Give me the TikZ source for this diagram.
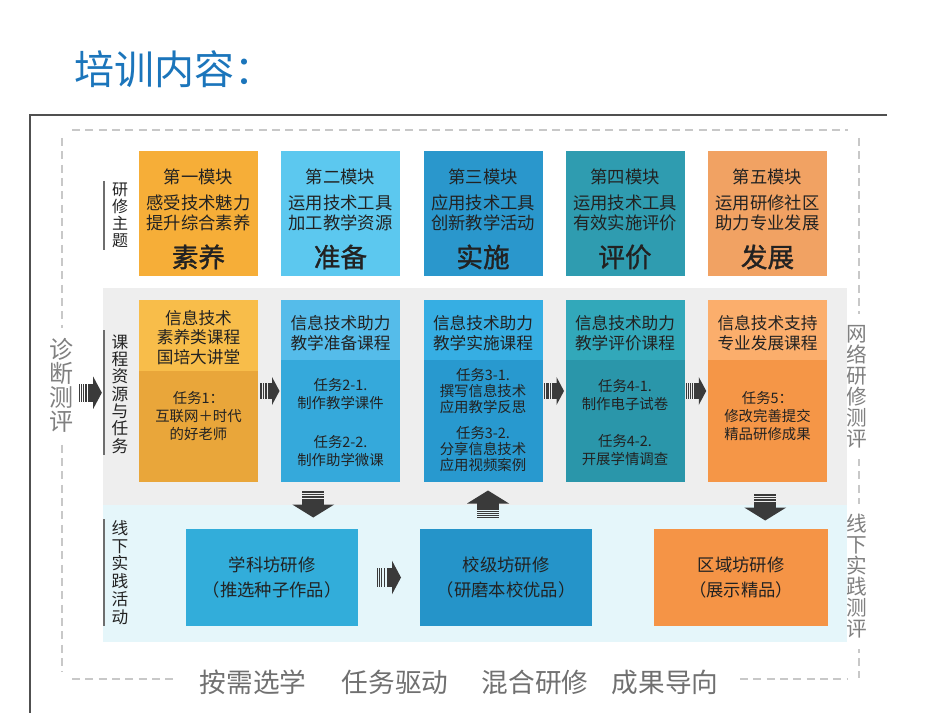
\documentclass[tikz,border=0pt]{standalone}
\usepackage{fontspec}
\setmainfont{Noto Sans CJK SC}
\newfontfamily\bigcjk[FakeBold=1.2]{Noto Sans CJK SC}
\usetikzlibrary{calc}
\definecolor{titleblue}{HTML}{1B75BB}
\definecolor{framec}{HTML}{505050}
\definecolor{dashc}{HTML}{C8C8C8}
\definecolor{sidec}{HTML}{808080}
\definecolor{bottomc}{HTML}{707070}
\definecolor{txt}{HTML}{222222}
\definecolor{barc}{HTML}{6E6E6E}
\definecolor{arrc}{HTML}{3A3A3A}
\definecolor{panelgray}{HTML}{EEEEEE}
\definecolor{panelcyan}{HTML}{E5F6FA}
\definecolor{mA}{HTML}{F6AE38}
\definecolor{mB}{HTML}{5CC8EF}
\definecolor{mC}{HTML}{2A97CC}
\definecolor{mD}{HTML}{2F9CB0}
\definecolor{mE}{HTML}{F1A263}
\definecolor{hA}{HTML}{F8BD4A}
\definecolor{lA}{HTML}{E9A63A}
\definecolor{hB}{HTML}{55BCEA}
\definecolor{lB}{HTML}{35A9DB}
\definecolor{hC}{HTML}{36AEE3}
\definecolor{lC}{HTML}{2899CF}
\definecolor{hD}{HTML}{32A8BA}
\definecolor{lD}{HTML}{2A96AA}
\definecolor{hE}{HTML}{FBAE6C}
\definecolor{lE}{HTML}{F59647}
\definecolor{pAc}{HTML}{32ADDA}
\definecolor{pBc}{HTML}{2594C9}
\definecolor{pCc}{HTML}{F59446}
\tikzset{
  pics/harr/.style={code={
    \fill[arrc] (-10,-8) rectangle (-9.4,8);
    \fill[arrc] (-8.4,-8) rectangle (-7.6,8);
    \fill[arrc] (-6.6,-8) rectangle (-5.5,8);
    \fill[arrc] (-4.5,-8) rectangle (-3,8);
    \fill[arrc] (-2,-8) rectangle (3,8);
    \fill[arrc] (2.5,-14) -- (10,0) -- (2.5,14) -- cycle;
  }},
  pics/varr/.style={code={
    \fill[arrc] (-11,-14) rectangle (11,-13.4);
    \fill[arrc] (-11,-12.4) rectangle (11,-11.6);
    \fill[arrc] (-11,-10.6) rectangle (11,-9.5);
    \fill[arrc] (-11,-8.5) rectangle (11,-7);
    \fill[arrc] (-11,-6) rectangle (11,0.5);
    \fill[arrc] (-21,0) -- (0,13) -- (21,0) -- cycle;
  }}
}
\begin{document}
\begin{tikzpicture}[x=0.75pt,y=-0.75pt,
  tbox/.style={inner sep=0pt, outer sep=0pt, minimum width=89.25pt, minimum height=93.75pt},
  cbox/.style={inner sep=0pt, outer sep=0pt, minimum width=89.25pt, minimum height=136.5pt},
  hbox/.style={inner sep=0pt, outer sep=0pt, minimum width=89.25pt, anchor=north},
  pbox/.style={inner sep=0pt, outer sep=0pt, minimum height=72.75pt, align=center, text=txt, font=\fontsize{13}{18.75}\selectfont},
  tx/.style={inner sep=0pt, align=center, text=txt},
  ftop/.style={tx, font=\fontsize{13}{15}\selectfont},
  fbig/.style={tx, font=\bigcjk\fontsize{20}{24}\selectfont},
  fhead/.style={tx, font=\fontsize{12.5}{14.6}\selectfont},
  flow/.style={tx, font=\fontsize{10.8}{13.5}\selectfont},
  flowt/.style={tx, font=\fontsize{10.8}{12}\selectfont},
  rowlab/.style={tx, text=txt},
  sidelab/.style={inner xsep=0pt, inner ysep=8pt, align=center, fill=white, text=sidec},
  bar/.style={draw=barc, line width=2.2pt},
  dashl/.style={draw=dashc, line width=1.5pt, dash pattern=on 6pt off 4pt},
]
\useasboundingbox (0,0) rectangle (950,713);
% title
\node[anchor=west, inner sep=0pt, text=titleblue, font=\fontsize{30}{32}\selectfont] (title) at (74,69) {培训内容：};
% frame
\draw[framec, line width=1pt] (887,115) -- (30,115) -- (30,713);
% dashed frame
\draw[dashl] (72,130) -- (848,130);
\draw[dashl] (62,138) -- (62,672);
\draw[dashl] (859,138) -- (859,678);
\draw[dashl] (72,679) -- (173,679);
\draw[dashl] (740,679) -- (848,679);
% side labels
\node[sidelab, font=\fontsize{18}{18}\selectfont] (diag) at (61,385.5) {诊\\断\\测\\评};
\node[sidelab, font=\fontsize{15.5}{15.75}\selectfont] (net) at (857,386.5) {网\\络\\研\\修\\测\\评};
\node[sidelab, font=\fontsize{15.5}{15.75}\selectfont] (off) at (857,576.5) {线\\下\\实\\践\\测\\评};
% panels
\fill[panelgray] (103,288) rectangle (847,505);
\fill[panelcyan] (103,505) rectangle (847,642);
% row labels
\draw[bar] (104,181) -- (104,250);
\node[rowlab, font=\fontsize{12}{12.75}\selectfont] (lab1) at (120,215.5) {研\\修\\主\\题};
\draw[bar] (104,330) -- (104,455);
\node[rowlab, font=\fontsize{12.5}{13}\selectfont] (lab2) at (120,394) {课\\程\\资\\源\\与\\任\\务};
\draw[bar] (104,519) -- (104,626);
\node[rowlab, font=\fontsize{12.5}{13.4}\selectfont] (lab3) at (120,572.5) {线\\下\\实\\践\\活\\动};
% row 1
\node[tbox, fill=mA] (t1) at (198.5,213.5) {};
\node[tbox, fill=mB] (t2) at (340.5,213.5) {};
\node[tbox, fill=mC] (t3) at (483,213.5) {};
\node[tbox, fill=mD] (t4) at (625,213.5) {};
\node[tbox, fill=mE] (t5) at (767.5,213.5) {};
\node[ftop] at ($(t1.north)+(0,26)$) {第一模块};
\node[ftop] at ($(t1.north)+(0,61.5)$) {感受技术魅力\\提升综合素养};
\node[fbig] at ($(t1.north)+(0,106)$) {素养};
\node[ftop] at ($(t2.north)+(0,26)$) {第二模块};
\node[ftop] at ($(t2.north)+(0,61.5)$) {运用技术工具\\加工教学资源};
\node[fbig] at ($(t2.north)+(0,106)$) {准备};
\node[ftop] at ($(t3.north)+(0,26)$) {第三模块};
\node[ftop] at ($(t3.north)+(0,61.5)$) {应用技术工具\\创新教学活动};
\node[fbig] at ($(t3.north)+(0,106)$) {实施};
\node[ftop] at ($(t4.north)+(0,26)$) {第四模块};
\node[ftop] at ($(t4.north)+(0,61.5)$) {运用技术工具\\有效实施评价};
\node[fbig] at ($(t4.north)+(0,106)$) {评价};
\node[ftop] at ($(t5.north)+(0,26)$) {第五模块};
\node[ftop] at ($(t5.north)+(0,61.5)$) {运用研修社区\\助力专业发展};
\node[fbig] at ($(t5.north)+(0,106)$) {发展};
% row 2
\node[cbox, fill=lA] (c1) at (198.5,391) {};
\node[cbox, fill=lB] (c2) at (340.5,391) {};
\node[cbox, fill=lC] (c3) at (483,391) {};
\node[cbox, fill=lD] (c4) at (625,391) {};
\node[cbox, fill=lE] (c5) at (767.5,391) {};
\node[hbox, fill=hA, minimum height=53.25pt] (h1) at (c1.north) {};
\node[hbox, fill=hB, minimum height=45pt] (h2) at (c2.north) {};
\node[hbox, fill=hC, minimum height=45pt] (h3) at (c3.north) {};
\node[hbox, fill=hD, minimum height=45pt] (h4) at (c4.north) {};
\node[hbox, fill=hE, minimum height=45pt] (h5) at (c5.north) {};
\node[fhead] at ($(c1.north)+(0,37.5)$) {信息技术\\素养类课程\\国培大讲堂};
\node[fhead] at ($(c2.north)+(0,33)$) {信息技术助力\\教学准备课程};
\node[fhead] at ($(c3.north)+(0,33)$) {信息技术助力\\教学实施课程};
\node[fhead] at ($(c4.north)+(0,33)$) {信息技术助力\\教学评价课程};
\node[fhead] at ($(c5.north)+(0,33)$) {信息技术支持\\专业发展课程};
\node[flow] at ($(c1.north)+(0,116.5)$) {任务1：\\互联网＋时代\\的好老师};
\node[flow] at ($(c2.north)+(0,94)$) {任务2-1.\\制作教学课件};
\node[flow] at ($(c2.north)+(0,151)$) {任务2-2.\\制作助学微课};
\node[flowt] at ($(c3.north)+(0,91)$) {任务3-1.\\撰写信息技术\\应用教学反思};
\node[flowt] at ($(c3.north)+(0,149)$) {任务3-2.\\分享信息技术\\应用视频案例};
\node[flow] at ($(c4.north)+(0,95)$) {任务4-1.\\制作电子试卷};
\node[flow] at ($(c4.north)+(0,150.5)$) {任务4-2.\\开展学情调查};
\node[flow] at ($(c5.north)+(0,116.5)$) {任务5：\\修改完善提交\\精品研修成果};
% row 3
\node[pbox, minimum width=129pt, fill=pAc] (pA) at (272,577.5) {学科坊研修\\（推选种子作品）};
\node[pbox, minimum width=129pt, fill=pBc] (pB) at (506,577.5) {校级坊研修\\（研磨本校优品）};
\node[pbox, minimum width=130.5pt, fill=pCc] (pC) at (741,577.5) {区域坊研修\\（展示精品）};
% arrows
\pic[scale=1.15] at ($(diag.east)!0.5!(lab2.west)+(-2,3)$) {harr};
\pic at ($(c1.east)!0.5!(c2.west)$) {harr};
\pic at ($(c3.east)!0.5!(c4.west)$) {harr};
\pic at ($(c4.east)!0.5!(c5.west)$) {harr};
\pic[scale=1.2] at ($(pA.east)!0.5!(pB.west)$) {harr};
\pic at ($(c2.south)!0.5!(pA.north)+(7,-1)$) {varr};
\pic[yscale=-1] at ($(c3.south)!0.5!(pB.north)+(-6.5,-2)$) {varr};
\pic at ($(c5.south)!0.5!(pC.north)+(11,2)$) {varr};
% bottom text
\node[tx, text=bottomc, font=\fontsize{20}{22}\selectfont] (k1) at (253,682) {按需选学};
\node[tx, text=bottomc, font=\fontsize{20}{22}\selectfont] (k2) at (395,682) {任务驱动};
\node[tx, text=bottomc, font=\fontsize{20}{22}\selectfont] (k3) at (535,682) {混合研修};
\node[tx, text=bottomc, font=\fontsize{20}{22}\selectfont] (k4) at (665,682) {成果导向};
\end{tikzpicture}
\end{document}
